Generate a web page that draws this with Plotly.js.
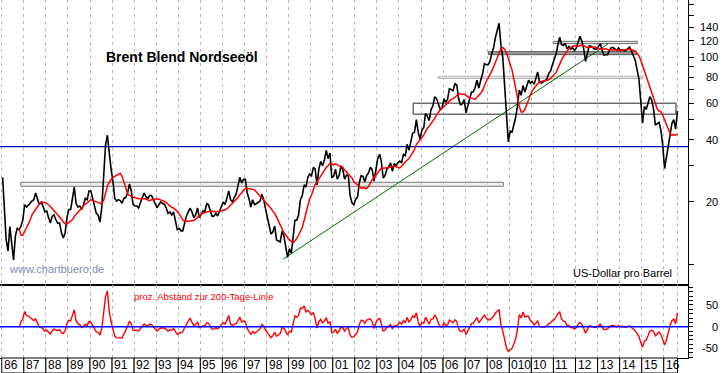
<!DOCTYPE html>
<html><head><meta charset="utf-8">
<script src="https://cdn.plot.ly/plotly-3.0.1.min.js"></script>
<style>html,body{margin:0;padding:0;background:#fff;}#chart{width:723px;height:373px;}</style>
</head><body><div id="chart"></div>
<script>
// Monthly Brent price (USD/barrel), Jan 1986 .. Aug 2016
const priceMonthly = [
26.3,16.8,13.1,11.6,15.2,12.6,10.5,13.7,14.9,14.7,15.3,16.3,
19.4,18.9,19.4,19.7,20.2,20.5,22.1,20.5,19.4,20.0,19.1,17.9,
18.1,16.8,15.8,17.0,17.3,16.4,15.8,15.8,14.2,13.4,14.2,16.8,
18.4,18.4,20.5,23.6,19.7,18.9,19.1,18.4,19.4,20.8,20.5,22.6,
22.6,20.8,19.4,17.6,17.3,16.0,18.9,28.4,37.8,42.0,33.6,28.9,
25.2,20.8,20.2,20.5,20.3,19.7,20.8,21.0,22.1,24.4,22.6,19.4,
19.1,19.1,18.7,20.0,21.0,22.1,21.2,20.8,21.5,21.5,20.5,19.4,
18.7,19.4,20.0,19.7,19.5,18.7,17.6,17.9,17.3,17.9,16.3,14.7,
14.9,14.5,14.5,15.8,17.1,17.9,18.7,17.9,16.8,17.3,18.7,16.8,
17.6,18.1,17.9,19.6,19.4,18.2,17.0,17.1,17.6,17.1,18.1,19.1,
20.0,19.4,21.3,22.6,20.5,20.0,21.0,21.8,23.9,26.3,24.7,25.7,
25.7,22.1,20.8,18.9,20.5,19.4,19.6,20.0,20.2,21.8,20.5,18.5,
16.6,15.0,14.0,14.3,15.3,13.1,13.0,12.8,14.5,13.7,12.1,10.8,
11.9,11.3,13.4,16.3,16.3,17.3,20.5,21.5,24.2,23.6,26.3,27.3,
26.8,29.4,28.8,24.2,28.8,31.4,29.9,31.9,35.5,32.4,34.5,26.3,
26.6,28.8,25.8,26.8,29.7,28.8,25.8,27.0,26.8,21.4,19.8,19.4,
20.6,21.1,24.7,26.8,26.6,25.0,26.8,27.6,29.4,28.6,25.2,29.4,
32.4,34.0,31.4,26.1,26.8,28.8,29.5,30.9,28.1,30.7,29.9,30.9,
31.5,31.0,34.0,33.5,38.0,35.5,38.5,43.0,43.5,50.0,43.5,40.0,
44.5,45.8,53.5,52.0,49.5,56.0,58.0,64.5,63.0,59.0,56.0,57.0,
63.0,60.5,62.5,70.5,70.0,69.0,74.5,73.5,63.0,59.0,59.5,62.5,
54.0,58.0,62.5,68.0,68.0,71.5,77.5,71.0,77.5,83.0,93.0,92.0,
92.0,95.5,104.0,111.0,124.5,134.0,146.0,114.5,99.5,73.0,53.5,39.0,
44.0,43.5,47.0,51.0,58.0,69.5,65.5,73.0,68.0,73.5,77.5,75.0,
76.5,74.0,79.0,85.0,76.0,75.0,76.0,77.0,78.5,83.5,86.0,92.0,
97.0,104.0,115.0,125.0,115.0,114.0,117.0,110.0,113.0,109.5,111.0,108.0,
111.0,119.5,126.5,120.0,110.5,95.5,103.0,113.5,113.0,111.5,109.5,109.5,
112.5,116.5,108.5,102.5,103.0,103.0,108.0,111.5,111.5,109.5,108.0,111.0,
108.0,109.0,107.5,108.0,109.5,112.0,107.0,101.5,97.0,87.5,79.0,62.0,
48.0,58.0,56.0,60.0,64.5,62.0,56.5,47.0,48.0,48.5,44.5,37.5,
29.0,33.0,39.0,44.0,48.0,50.0,45.0,55.0
];
// 200-day line, Oct 1986 .. Aug 2016 (monthly)
const ma200 = [
14.9,13.8,13.8,
14.4,15.2,15.6,16.3,17.3,17.9,18.6,19.2,19.6,20.0,20.0,19.9,
19.7,19.4,19.0,18.6,18.2,17.8,17.4,17.0,16.5,16.0,15.7,15.7,
15.9,16.1,16.4,17.0,17.4,17.7,18.2,18.7,19.2,19.6,19.8,20.2,
20.5,20.3,20.2,20.1,19.9,19.7,19.6,20.4,22.1,23.8,24.9,25.7,
26.3,26.6,26.9,27.4,27.5,26.6,24.9,23.1,21.9,21.5,21.2,21.1,
21.0,20.8,20.7,20.7,20.7,20.8,20.7,20.4,20.3,20.5,20.6,20.7,
20.7,20.6,20.5,20.3,20.1,19.9,19.5,19.1,18.8,18.7,18.4,18.0,
17.5,16.9,16.4,16.1,16.1,16.1,16.2,16.2,16.3,16.5,16.9,17.1,
17.5,17.7,17.8,17.9,18.0,18.0,18.1,18.0,17.9,18.0,18.0,18.1,
18.3,18.3,18.5,18.9,19.3,19.6,19.9,20.4,21.0,21.7,22.1,22.8,
23.2,23.2,23.2,23.1,23.0,22.8,22.4,21.7,21.3,20.9,20.4,20.0,
19.6,19.2,18.6,18.0,17.6,16.9,16.2,15.3,14.7,14.2,13.8,13.4,
13.1,12.9,12.7,13.0,13.3,13.8,14.4,15.1,16.3,17.6,19.1,20.7,
21.6,23.0,24.3,25.0,25.9,26.9,27.5,28.4,29.4,29.9,30.7,30.4,
30.2,30.6,30.3,29.8,29.8,29.5,28.5,28.0,27.2,26.7,26.1,25.1,
24.6,24.0,23.5,23.3,23.4,23.2,23.2,23.8,24.8,25.7,26.2,27.0,
27.8,28.5,29.0,29.1,29.1,29.2,29.2,29.4,29.7,29.9,29.6,29.3,
29.2,29.8,30.5,31.0,31.9,32.4,33.4,34.6,35.9,37.9,39.1,40.0,
41.0,42.2,43.8,45.4,46.5,47.8,49.3,50.7,52.7,54.6,55.7,56.9,
57.8,58.7,60.0,61.4,62.6,63.1,64.2,65.7,66.4,66.6,66.2,66.4,
65.6,64.3,63.6,63.5,62.8,62.6,64.1,65.3,67.1,69.1,73.0,76.4,
79.4,82.1,85.7,89.7,94.4,100.7,107.0,110.5,111.5,109.5,105.1,99.4,
93.4,86.7,78.9,70.6,62.3,57.8,54.4,54.4,55.9,59.3,62.7,65.8,
68.8,71.1,73.2,74.7,75.8,76.0,76.8,77.1,77.2,78.1,79.0,80.8,
82.6,84.5,88.4,93.3,97.2,100.9,104.7,107.4,110.1,111.8,113.2,113.6,
113.2,112.8,113.9,114.5,113.8,112.4,111.4,111.8,112.0,112.3,112.2,111.2,
109.9,109.5,109.3,110.0,110.0,109.0,108.5,108.5,108.7,108.7,108.2,107.7,
107.6,108.3,108.7,109.2,109.4,109.4,109.0,108.2,107.1,104.7,101.8,97.1,
91.2,86.2,80.8,75.6,71.4,67.4,63.4,59.3,56.2,54.9,54.5,52.5,
49.9,47.2,44.6,42.8,42.0,42.3,42.0,42.6
];
// percent distance to the 200-day line, Oct 1986 .. Aug 2016
const abstand = [
-2,11,18,
35,25,25,21,17,14,18,6,-1,0,-4,-10,
-8,-14,-17,-9,-5,-8,-9,-7,-14,-16,-9,7,
15,14,25,39,14,7,5,-2,1,6,3,12,
10,3,-4,-12,-13,-19,-4,39,70,82,35,12,
-4,-22,-25,-25,-26,-26,-17,-9,1,13,6,-8,
-9,-8,-10,-4,1,6,2,2,6,5,-1,-6,
-10,-6,-3,-3,-3,-6,-10,-7,-8,-4,-12,-18,
-15,-14,-12,-2,6,11,20,10,3,5,11,-2,
1,2,1,9,8,1,-6,-5,-2,-5,0,6,
9,6,15,26,6,2,6,7,14,22,11,13,
11,-5,-10,-18,-11,-15,-12,-8,-5,5,1,-8,
-15,-22,-25,-21,-13,-22,-20,-16,-1,-4,-12,-19,
-10,-12,6,25,22,26,43,42,48,34,38,32,
28,32,19,-3,12,17,9,13,21,8,12,-14,
-12,-6,-15,-10,-1,-2,-10,-4,-2,-20,-24,-23,
-16,-12,5,15,14,8,15,16,18,11,-4,9,
17,19,8,-10,-8,-1,1,5,-5,3,1,5,
10,6,14,10,21,11,16,25,21,32,11,0,
9,8,22,14,6,17,18,27,20,8,0,0,
9,3,4,15,12,9,16,12,-5,-11,-10,-6,
-18,-10,-2,7,8,14,21,9,16,20,27,20,
16,16,21,24,32,35,40,4,-10,-33,-49,-57,
-53,-50,-40,-28,-7,28,20,34,22,24,24,14,
11,4,8,14,0,-1,-1,0,2,7,9,14,
17,23,30,34,18,13,12,2,3,-2,-2,-5,
-2,6,10,5,-3,-15,-7,2,1,-1,-2,-1,
2,6,-1,-7,-6,-5,0,3,3,1,0,3,
0,1,-1,-1,0,2,-2,-6,-9,-16,-22,-36,
-47,-33,-31,-21,-10,-8,-11,-21,-15,-12,-18,-29,
-42,-30,-13,3,14,18,7,32
];
const yearLabels = ['86','87','88','89','90','91','92','93','94','95','96','97','98','99','00','01','02','03','04','05','06','07','08','010','10','11','12','13','14','15','16'];
const priceTicks = [10,20,30,40,50,60,70,80,90,100,120,140,160,180];
const priceLabels = [20,40,60,80,100,120,140];
const oscTicks = [-70,-60,-50,-40,-30,-20,-10,0,10,20,30,40,50,60,70,80,90];
const oscLabels = [50,0,-50];
const supportLevel = 37;
// price zones: start, end, low, high
const zoneStart = ['1986-11-13','2004-08-25','2005-10-12','2008-01-19','2010-12-28'];
const zoneEnd   = ['2008-09-24','2016-07-20','2015-01-26','2014-10-08','2014-10-19'];
const zoneLow   = [23.8,53.1,79.0,103.0,116.4];
const zoneHigh  = [24.9,60.0,81.0,106.5,119.5];
const trendDates = ['1998-10-05','2013-06-28'];
const trendValues = [10.6,116.4];
const axisStart = '1985-12-03', axisEnd = '2017-02-05';
const lastDate = '2016-08-15';

function mDate(i){const y=1986+Math.floor(i/12);const m=i%12+1;return y+'-'+String(m).padStart(2,'0')+'-15';}
const xPrice = priceMonthly.map((_,i)=>mDate(i));
const xMA = ma200.map((_,i)=>mDate(i+9));

const H = 358, W = 688;
const gridDates = yearLabels.map((_,i)=>(1986+i)+'-01-01').concat([lastDate]);
const lg = Math.log10;

const zoneStyle = [
 {line:'#7a7a7a',fill:'rgba(232,232,232,0.7)',w:1},
 {line:'#6e6e6e',fill:'rgba(0,0,0,0)',w:1.5},
 {line:'#b4b4b4',fill:'rgba(225,225,225,0.8)',w:1},
 {line:'#5a5a5a',fill:'#9a9a9a',w:1},
 {line:'#6e6e6e',fill:'rgba(215,215,215,0.8)',w:1}
];
const traces = [];
zoneStart.forEach((s,i)=>{
 const e = zoneEnd[i];
 traces.push({x:[s,e,e,s,s],y:[zoneLow[i],zoneLow[i],zoneHigh[i],zoneHigh[i],zoneLow[i]],type:'scatter',mode:'lines',fill:'toself',fillcolor:zoneStyle[i].fill,line:{color:zoneStyle[i].line,width:zoneStyle[i].w},xaxis:'x',yaxis:'y',hoverinfo:'skip'});
});
traces.push({x:trendDates,y:trendValues,type:'scatter',mode:'lines',line:{color:'#006e00',width:1},xaxis:'x',yaxis:'y',hoverinfo:'skip'});
traces.push({x:[axisStart,axisEnd],y:[supportLevel,supportLevel],type:'scatter',mode:'lines',line:{color:'#0000b4',width:1.2},xaxis:'x',yaxis:'y',hoverinfo:'skip'});
traces.push({x:xPrice,y:priceMonthly,type:'scatter',mode:'lines',xaxis:'x',yaxis:'y',line:{color:'#000',width:1.6},hoverinfo:'skip'});
traces.push({x:xMA,y:ma200,type:'scatter',mode:'lines',xaxis:'x',yaxis:'y',line:{color:'#ff0000',width:1.5},hoverinfo:'skip'});
traces.push({x:xMA,y:abstand,type:'scatter',mode:'lines',xaxis:'x2',yaxis:'y2',line:{color:'#ff0000',width:1.4},hoverinfo:'skip'});
traces.push({x:[axisStart,axisEnd],y:[0,0],type:'scatter',mode:'lines',xaxis:'x2',yaxis:'y2',line:{color:'#0000ff',width:1.6},hoverinfo:'skip'});

const shapes = [];
const ann = [];
yearLabels.forEach((lab,i)=>{
 const x0=(1986+i)+'-01-01';
 const x1=i<yearLabels.length-1?(1987+i)+'-01-01':lastDate;
 shapes.push({type:'rect',xref:'x',yref:'paper',x0:x0,x1:x1,y0:-15/H,y1:0,line:{color:'#000',width:1},fillcolor:'#fff',layer:'above'});
 ann.push({xref:'x',yref:'paper',x:x0,y:-7/H,xanchor:'left',yanchor:'middle',text:lab,showarrow:false,font:{size:12,color:'#000'}});
});
priceLabels.forEach(v=>ann.push({xref:'paper',yref:'y',x:720/W,y:lg(v),xanchor:'right',yanchor:'middle',text:String(v),showarrow:false,font:{size:11,color:'#000'}}));
oscLabels.forEach(v=>ann.push({xref:'paper',yref:'y2',x:720/W,y:v,xanchor:'right',yanchor:'middle',text:String(v),showarrow:false,font:{size:11,color:'#000'}}));
ann.push({xref:'paper',yref:'paper',x:104/W,y:(H-57)/H,xanchor:'left',yanchor:'middle',text:'<b>Brent Blend Nordseeöl</b>',showarrow:false,font:{size:14,color:'#000'}});
ann.push({xref:'paper',yref:'paper',x:7/W,y:(H-269)/H,xanchor:'left',yanchor:'middle',text:'www.chartbuero.de',showarrow:false,font:{size:11,color:'#7d8cb0'}});
ann.push({xref:'paper',yref:'paper',x:674/W,y:(H-273)/H,xanchor:'right',yanchor:'middle',text:'US-Dollar pro Barrel',showarrow:false,font:{size:11,color:'#000'}});
ann.push({xref:'paper',yref:'paper',x:132/W,y:(H-296)/H,xanchor:'left',yanchor:'middle',text:'proz. Abstand zur 200-Tage-Linie',showarrow:false,font:{size:9.5,color:'#ff0000'}});

const xBase = {type:'date',range:[axisStart,axisEnd],domain:[0,1],tickvals:gridDates,showticklabels:false,ticks:'',showgrid:true,griddash:'3px,4px',gridwidth:1,showline:true,linecolor:'#000',linewidth:1,zeroline:false,fixedrange:true};

const layout = {
 width:723,height:373,margin:{l:0,r:35,t:0,b:15,pad:0},
 paper_bgcolor:'#fff',plot_bgcolor:'#fff',showlegend:false,
 font:{family:'Liberation Sans, Arial, sans-serif',size:11,color:'#000'},
 xaxis:Object.assign({},xBase,{anchor:'y',gridcolor:'#c0b0c0'}),
 xaxis2:Object.assign({},xBase,{anchor:'y2',matches:'x',mirror:true,gridcolor:'#aabaaa'}),
 yaxis:{type:'log',range:[0.902,2.277],domain:[1-284.5/H,1],side:'right',anchor:'x',showline:true,linecolor:'#000',linewidth:1,ticks:'outside',ticklen:5,tickcolor:'#000',tickvals:priceTicks,showticklabels:false,showgrid:false,zeroline:false,fixedrange:true},
 yaxis2:{range:[-72,96],domain:[0,73/H],side:'right',anchor:'x2',showline:true,linecolor:'#000',linewidth:1,ticks:'outside',ticklen:4,tickcolor:'#000',tickvals:oscTicks,showticklabels:false,showgrid:false,zeroline:false,fixedrange:true},
 shapes:shapes,annotations:ann
};
Plotly.newPlot('chart',traces,layout,{staticPlot:true,displayModeBar:false});
</script></body></html>
